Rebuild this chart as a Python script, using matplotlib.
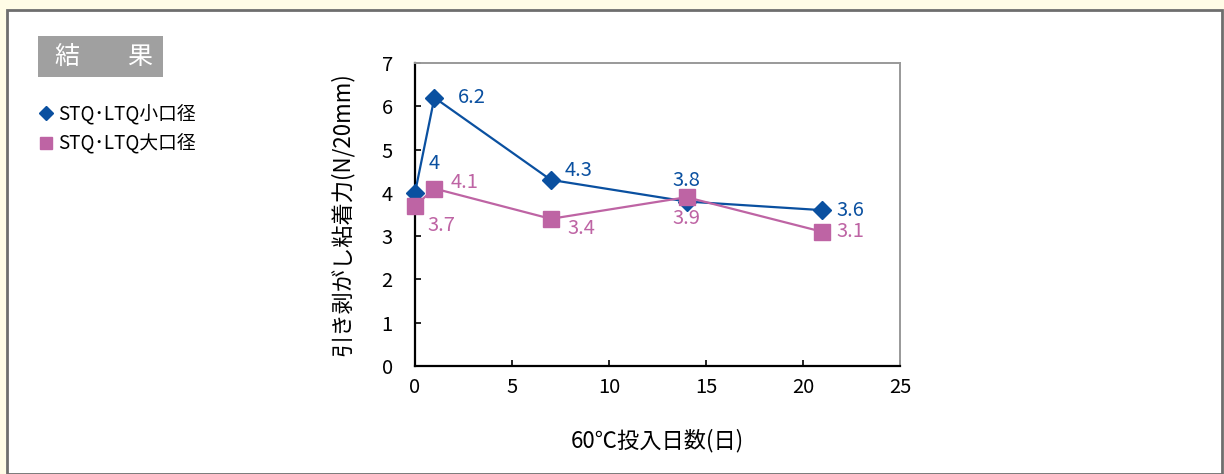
import matplotlib
matplotlib.use("Agg")
import matplotlib.pyplot as plt
from matplotlib.patches import Rectangle

plt.rcParams['font.family'] = ['Noto Sans CJK JP', 'DejaVu Sans']

# --- data ---
days = [0, 1, 7, 14, 21]
small_bore = [4, 6.2, 4.3, 3.8, 3.6]   # STQ・LTQ小口径
large_bore = [3.7, 4.1, 3.4, 3.9, 3.1]  # STQ・LTQ大口径
small_labels = ['4', '6.2', '4.3', '3.8', '3.6']
large_labels = ['3.7', '4.1', '3.4', '3.9', '3.1']
series_names = ['STQ･LTQ小口径', 'STQ･LTQ大口径']

blue = '#0A50A0'
pink = '#BE64A4'

W, H = 1224, 474
fig = plt.figure(figsize=(W / 100, H / 100), dpi=100, facecolor='#FFFCE6')

# white panel with grey border
fig.patches.append(Rectangle((7 / W, 0), (1222 - 7) / W, (H - 10) / H,
                             transform=fig.transFigure, facecolor='white',
                             edgecolor='#6E6E6E', linewidth=2, zorder=-5))

# heading box
fig.patches.append(Rectangle((38 / W, 1 - 77 / H), 125 / W, 41 / H,
                             transform=fig.transFigure, facecolor='#A0A0A0',
                             edgecolor='none', zorder=-4))
fig.text(67 / W, 1 - 57 / H, '結', color='white', fontsize=18,
         ha='center', va='center')
fig.text(140 / W, 1 - 57 / H, '果', color='white', fontsize=18,
         ha='center', va='center')

ax = fig.add_axes([415 / W, 1 - 366 / H, 485 / W, 303 / H])
ax.patch.set_alpha(0)
ax.plot(days, small_bore, color=blue, marker='D', markersize=9, linewidth=1.6,
        label=series_names[0], zorder=3, clip_on=False)
ax.plot(days, large_bore, color=pink, marker='s', markersize=11, linewidth=1.6,
        label=series_names[1], zorder=4, clip_on=False)

# value labels (offsets in points)
small_off = [(10, 21), (17, 0), (10, 7), (0, 15), (10, 0)]
small_ha = ['left', 'left', 'left', 'center', 'left']
for x, y, t, o, h in zip(days, small_bore, small_labels, small_off, small_ha):
    ax.annotate(t, (x, y), xytext=o, textcoords='offset points', ha=h,
                va='center', color=blue, fontsize=14.5)
large_off = [(9, -14), (12, 4), (12, -7), (0, -15), (10, 0)]
large_ha = ['left', 'left', 'left', 'center', 'left']
for x, y, t, o, h in zip(days, large_bore, large_labels, large_off, large_ha):
    ax.annotate(t, (x, y), xytext=o, textcoords='offset points', ha=h,
                va='center', color=pink, fontsize=14.5)

ax.set_xlim(0, 25)
ax.set_ylim(0, 7)
ax.set_xticks(range(0, 26, 5))
ax.set_yticks(range(0, 8))
ax.tick_params(direction='in', length=4, width=1.2, labelsize=14.5,
               colors='black')
ax.tick_params(axis='y', pad=16)
ax.tick_params(axis='x', pad=8)
for s in ['left', 'bottom']:
    ax.spines[s].set_color('black')
    ax.spines[s].set_linewidth(1.6)
for s in ['top', 'right']:
    ax.spines[s].set_color('#999999')
    ax.spines[s].set_linewidth(1.4)

ax.set_xlabel('60℃投入日数(日)', fontsize=16, labelpad=22)
ax.set_ylabel('引き剥がし粘着力(N/20mm)', fontsize=16, labelpad=20)

# legend at left of the panel
fig.legend([plt.Line2D([], [], color=blue, marker='D', linestyle='none', markersize=7),
            plt.Line2D([], [], color=pink, marker='s', linestyle='none', markersize=9)],
           series_names, loc='upper left', bbox_to_anchor=(38 / W, 1 - 104 / H),
           frameon=False, fontsize=13.5, handlelength=0.8, handletextpad=0.3,
           labelspacing=0.45, borderaxespad=0, borderpad=0)

fig.savefig('out.png', dpi=100, facecolor=fig.get_facecolor())
